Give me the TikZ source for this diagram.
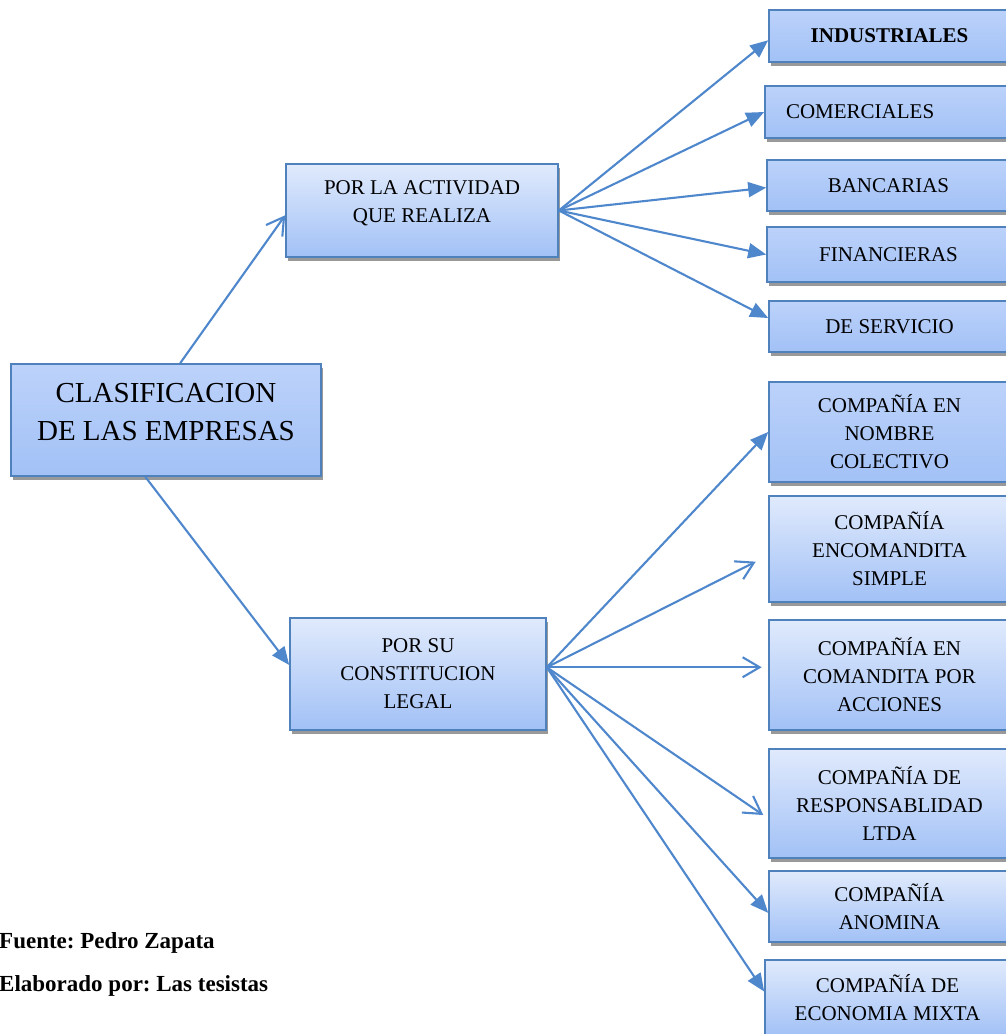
\documentclass[tikz,border=0pt]{standalone}
\usepackage{fontspec}
\setmainfont{Liberation Serif}
\usetikzlibrary{arrows.meta, shadows}
\definecolor{boxline}{RGB}{79,129,189}
\definecolor{linkblue}{RGB}{79,135,205}
\definecolor{boxtop}{RGB}{224,234,252}
\definecolor{boxmid}{RGB}{188,210,250}
\definecolor{boxbottom}{RGB}{162,193,246}
\tikzset{
	box/.style={
		rectangle,
		draw=boxline, line width=1.6pt,
		top color=boxtop, bottom color=boxbottom,
		drop shadow={shadow xshift=2pt, shadow yshift=-4pt, fill=black!40, opacity=1},
		align=center, inner sep=0pt,
		font=\fontsize{21}{28}\selectfont
	},
	box dark/.style={box, top color=boxmid},
	link/.style={draw=linkblue, line width=2.1pt},
	tip full/.style={link, -{Triangle[length=18pt,width=15pt]}},
	tip open/.style={link, -{Straight Barb[length=17pt,width=20pt]}}
}
\frenchspacing
\begin{document}
\begin{tikzpicture}[x=1pt,y=-1pt]
	\useasboundingbox (0,0) rectangle (1006,1034);

	\node[box dark, minimum width=310pt, minimum height=112pt, font=\fontsize{29}{38}\selectfont] (root) at (166,420) {CLASIFICACION\\DE LAS EMPRESAS\rule[-16.5pt]{0pt}{16.5pt}};
	\node[box, minimum width=272pt, minimum height=93pt] (act) at (422,210.5) {POR LA ACTIVIDAD\\QUE REALIZA\rule[-17pt]{0pt}{17pt}};
	\node[box, minimum width=256pt, minimum height=112pt] (leg) at (418,674) {POR SU\\CONSTITUCION\\LEGAL};

	\node[box dark, minimum width=241pt, minimum height=52pt] (ind) at (889.5,36) {\textbf{INDUSTRIALES}};
	\node[box dark, minimum width=245pt, minimum height=52pt, text width=203pt, align=left, inner xsep=21pt] (com) at (887.5,112) {COMERCIALES};
	\node[box dark, minimum width=243pt, minimum height=51pt] (ban) at (888.5,185.5) {BANCARIAS};
	\node[box dark, minimum width=243pt, minimum height=55pt] (fin) at (888.5,254.5) {FINANCIERAS};
	\node[box dark, minimum width=241pt, minimum height=51pt] (ser) at (889.5,326.5) {DE SERVICIO};

	\node[box dark, minimum width=241pt, minimum height=100pt] (col) at (889.5,432) {COMPAÑÍA EN\\NOMBRE\\COLECTIVO};
	\node[box, minimum width=241pt, minimum height=106pt] (sim) at (889.5,549) {COMPAÑÍA\\ENCOMANDITA\\SIMPLE};
	\node[box, minimum width=241pt, minimum height=110pt] (acc) at (889.5,675) {COMPAÑÍA EN\\COMANDITA POR\\ACCIONES};
	\node[box, minimum width=241pt, minimum height=109pt] (res) at (889.5,803.5) {COMPAÑÍA DE\\RESPONSABLIDAD\\LTDA};
	\node[box, minimum width=241pt, minimum height=71pt] (ano) at (889.5,906.5) {COMPAÑÍA\\ANOMINA};
	\node[box, minimum width=245pt, minimum height=76pt] (mix) at (887.5,998) {COMPAÑÍA DE\\ECONOMIA MIXTA};

	\node[anchor=base west, inner sep=0pt, font=\fontsize{23}{28}\selectfont\bfseries] (src) at (-1,948) {Fuente: Pedro Zapata};
	\node[anchor=base west, inner sep=0pt, font=\fontsize{23}{28}\selectfont\bfseries] (auth) at (-1,991) {Elaborado por: Las tesistas};

	\draw[tip open] (root.76) -- (act.182);
	\draw[tip full] (root.250) -- (leg.176);

	\foreach \dest/\ang in {ind/182, com/180, ban/181, fin/180, ser/176}
		\draw[tip full] (act.east) -- (\dest.\ang);

	\draw[tip full] (leg.3) -- (col.west);
	\draw[tip open, shorten >=14pt] (leg.3) -- (sim.183);
	\draw[tip open, shorten >=6.5pt] (leg.3) -- (leg.3 -| acc.west);
	\draw[tip open, shorten >=6pt] (leg.3) -- (res.187);
	\draw[tip full] (leg.3) -- (ano.183);
	\draw[tip full] (leg.3) -- (mix.177);
\end{tikzpicture}
\end{document}
